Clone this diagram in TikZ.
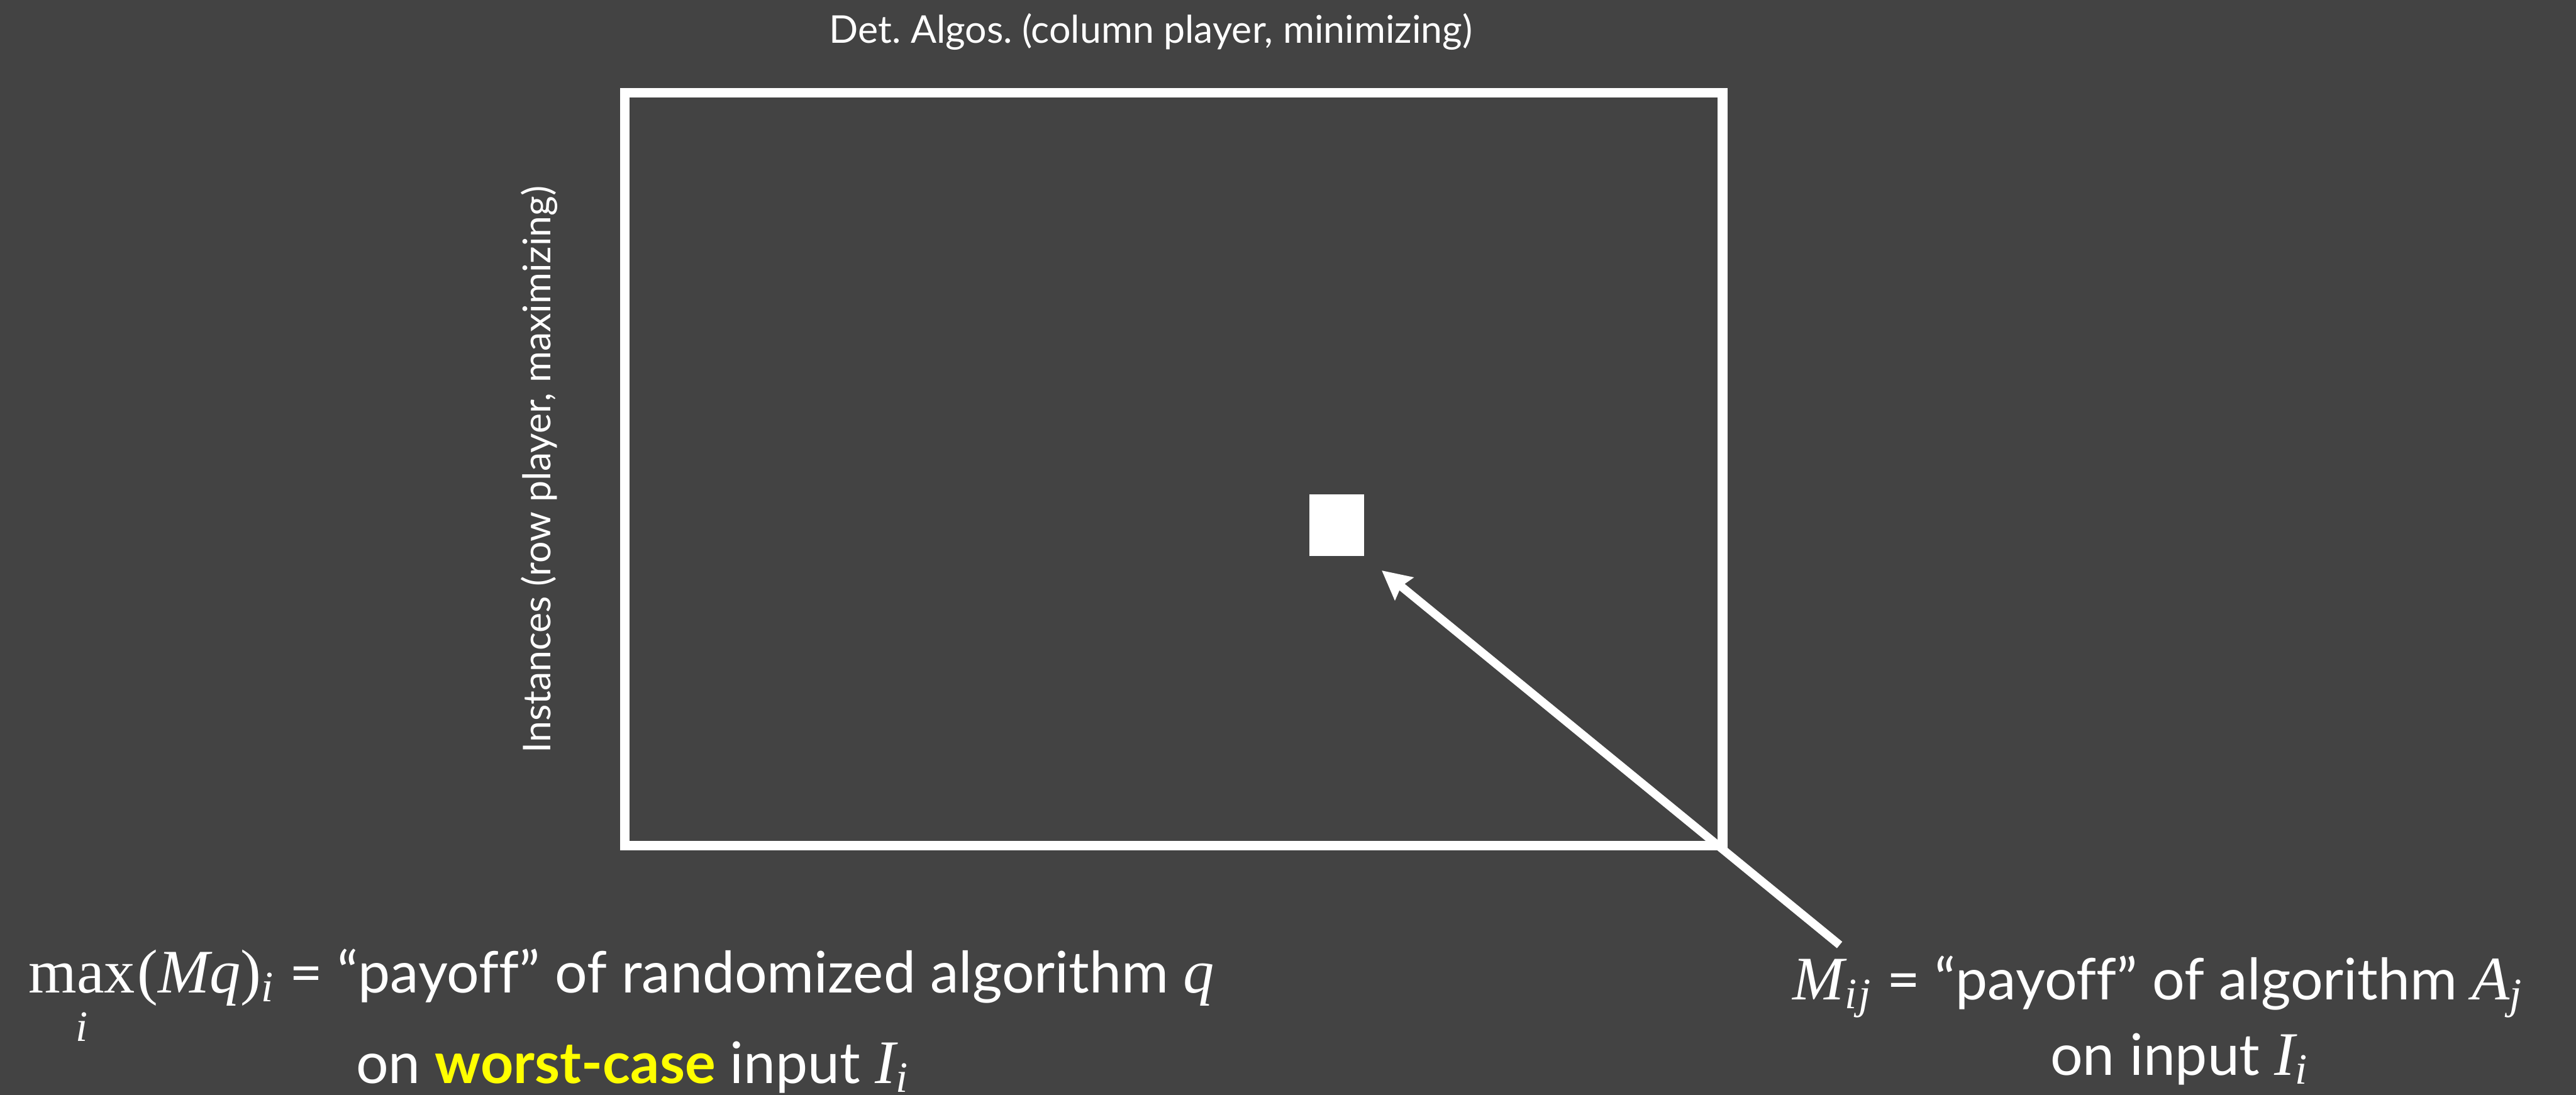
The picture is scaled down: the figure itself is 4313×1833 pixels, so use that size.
\documentclass[tikz,border=0pt]{standalone}
\usepackage{fontspec}
\usepackage{amsmath}
\setmainfont{Lato}[Ligatures={NoCommon}]
\newfontfamily\mathserif[Scale=1.08]{Liberation Serif}
\usetikzlibrary{arrows.meta}
\definecolor{slate}{HTML}{434343}
\definecolor{hilite}{HTML}{FFFF00}
% italic math-style letters and their subscripts
\newcommand\vv[1]{{\mathserif\itshape #1}}
\newcommand\vsub[1]{\textsubscript{\vv{#1}}}
\frenchspacing
\begin{document}
\begin{tikzpicture}[x=0.25pt,y=-0.25pt,
  every node/.style={text=white, inner sep=0pt, outer sep=0pt},
  frame/.style={draw=white, line width=4pt},
  cellmark/.style={fill=white},
  smalllabel/.style={font=\fontsize{16}{19}\selectfont},
  biglabel/.style={font=\fontsize{24}{29}\selectfont},
  pointer/.style={draw=white, line width=3.5pt,
    -{Stealth[length=12pt,width=12pt,inset=1.5pt]}}]
% background
\fill[slate] (0,0) rectangle (4313,1833);
\useasboundingbox (0,0) rectangle (4313,1833);

% payoff matrix and one highlighted entry
\node (matrix) [frame, minimum width=459.5pt, minimum height=315.25pt] at (1965,785.5) {};
\node (cell) [cellmark, minimum width=23pt, minimum height=25.75pt] at (2238,879.5) {};

% axis labels
\node (colhead) [smalllabel, anchor=base] at (1927,72) {Det. Algos. (column player, minimizing)};
\node (rowhead) [smalllabel, rotate=90, anchor=base] at (922,786) {Instances (row player, maximizing)};

% explanation of a single entry
\node (entrynote) [biglabel, anchor=base] at (3613,1674) {\vv{M}\vsub{i\kern1pt j} = “payoff” of algorithm \vv{A}\vsub{j}};
\node (entryinput) [biglabel, anchor=base] at (3649,1800) {on input \vv{I}\vsub{i}};

% explanation of the mixed strategy
\node (mixnote) [biglabel, anchor=base west] at (48,1662)
  {$\displaystyle\mathop{\text{\mathserif max}}\limits_{\text{\raisebox{-5pt}{\vv{i}}}}$\kern1pt{\mathserif(}\vv{Mq}{\mathserif)}\vsub{i} = “payoff” of randomized algorithm \vv{q}};
\node (mixinput) [biglabel, anchor=base] at (1059,1814)
  {on {\bfseries\color{hilite}worst-case} input \vv{I}\vsub{i}};

% pointer from the note to the entry
\coordinate (tail) at (3080,1582);
\draw[pointer, shorten >=9.5pt] (tail) -- (cell.south east);
\end{tikzpicture}
\end{document}
